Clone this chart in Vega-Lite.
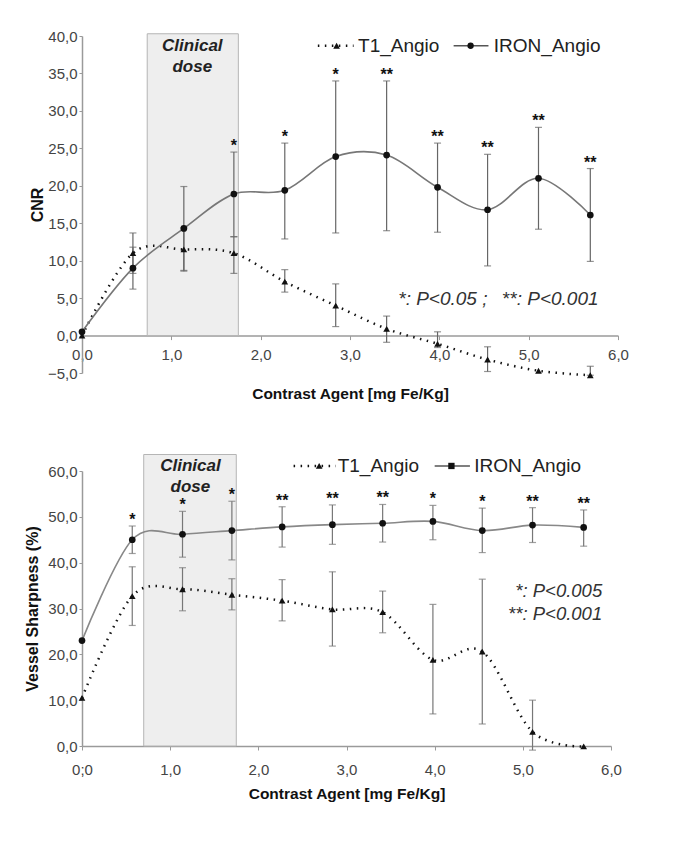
{
  "$schema": "https://vega.github.io/schema/vega-lite/v6.json",
  "background": "white",
  "padding": {"left": 24, "top": 29, "right": 5, "bottom": 5},
  "spacing": 50,
  "config": {
    "view": {"stroke": null},
    "font": "Liberation Sans",
    "axis": {"grid": false, "domainColor": "#9a9a9a", "domainWidth": 1.5, "tickColor": "#9a9a9a", "tickSize": 4, "labelColor": "#444444", "labelFontSize": 15, "labelFont": "Liberation Sans", "titleFont": "Liberation Sans", "titleFontSize": 16, "titleFontWeight": "bold", "titleColor": "#111111", "labelFlush": false, "labelOverlap": false}
  },
  "datasets": {
    "cnr": [
      {"dose": 0.0, "series": "IRON_Angio", "value": 0.5, "lo": null, "hi": null, "sig": ""},
      {"dose": 0.57, "series": "IRON_Angio", "value": 9.0, "lo": 6.2, "hi": 11.8, "sig": ""},
      {"dose": 1.14, "series": "IRON_Angio", "value": 14.3, "lo": 8.7, "hi": 19.9, "sig": ""},
      {"dose": 1.70, "series": "IRON_Angio", "value": 18.9, "lo": 13.2, "hi": 24.5, "sig": "*"},
      {"dose": 2.27, "series": "IRON_Angio", "value": 19.4, "lo": 12.9, "hi": 25.7, "sig": "*"},
      {"dose": 2.84, "series": "IRON_Angio", "value": 23.9, "lo": 13.7, "hi": 34.0, "sig": "*"},
      {"dose": 3.41, "series": "IRON_Angio", "value": 24.1, "lo": 14.0, "hi": 34.0, "sig": "**"},
      {"dose": 3.98, "series": "IRON_Angio", "value": 19.8, "lo": 13.8, "hi": 25.7, "sig": "**"},
      {"dose": 4.54, "series": "IRON_Angio", "value": 16.8, "lo": 9.3, "hi": 24.2, "sig": "**"},
      {"dose": 5.11, "series": "IRON_Angio", "value": 21.0, "lo": 14.2, "hi": 27.8, "sig": "**"},
      {"dose": 5.69, "series": "IRON_Angio", "value": 16.1, "lo": 9.9, "hi": 22.3, "sig": "**"},
      {"dose": 0.0, "series": "T1_Angio", "value": 0.0, "lo": null, "hi": null, "sig": ""},
      {"dose": 0.57, "series": "T1_Angio", "value": 11.0, "lo": 8.3, "hi": 13.7, "sig": ""},
      {"dose": 1.14, "series": "T1_Angio", "value": 11.5, "lo": 8.6, "hi": 14.4, "sig": ""},
      {"dose": 1.70, "series": "T1_Angio", "value": 11.0, "lo": 8.3, "hi": 13.2, "sig": ""},
      {"dose": 2.27, "series": "T1_Angio", "value": 7.2, "lo": 5.8, "hi": 8.8, "sig": ""},
      {"dose": 2.84, "series": "T1_Angio", "value": 4.0, "lo": 1.2, "hi": 6.9, "sig": ""},
      {"dose": 3.41, "series": "T1_Angio", "value": 0.9, "lo": -0.9, "hi": 2.6, "sig": ""},
      {"dose": 3.98, "series": "T1_Angio", "value": -1.1, "lo": -1.6, "hi": 0.5, "sig": ""},
      {"dose": 4.54, "series": "T1_Angio", "value": -3.2, "lo": -4.8, "hi": -1.5, "sig": ""},
      {"dose": 5.11, "series": "T1_Angio", "value": -4.7, "lo": null, "hi": null, "sig": ""},
      {"dose": 5.69, "series": "T1_Angio", "value": -5.3, "lo": -5.3, "hi": -4.1, "sig": ""}
    ],
    "sharp": [
      {"dose": 0.0, "series": "IRON_Angio", "value": 23.0, "lo": null, "hi": null, "sig": ""},
      {"dose": 0.57, "series": "IRON_Angio", "value": 45.0, "lo": 42.0, "hi": 48.0, "sig": "*"},
      {"dose": 1.14, "series": "IRON_Angio", "value": 46.2, "lo": 41.2, "hi": 51.2, "sig": "*"},
      {"dose": 1.70, "series": "IRON_Angio", "value": 47.0, "lo": 40.6, "hi": 53.4, "sig": "*"},
      {"dose": 2.27, "series": "IRON_Angio", "value": 47.8, "lo": 43.4, "hi": 52.2, "sig": "**"},
      {"dose": 2.84, "series": "IRON_Angio", "value": 48.3, "lo": 44.0, "hi": 52.6, "sig": "**"},
      {"dose": 3.41, "series": "IRON_Angio", "value": 48.6, "lo": 44.5, "hi": 52.7, "sig": "**"},
      {"dose": 3.98, "series": "IRON_Angio", "value": 49.0, "lo": 45.0, "hi": 52.5, "sig": "*"},
      {"dose": 4.54, "series": "IRON_Angio", "value": 47.0, "lo": 42.2, "hi": 51.9, "sig": "*"},
      {"dose": 5.11, "series": "IRON_Angio", "value": 48.2, "lo": 44.4, "hi": 52.0, "sig": "**"},
      {"dose": 5.69, "series": "IRON_Angio", "value": 47.7, "lo": 43.6, "hi": 51.5, "sig": "**"},
      {"dose": 0.0, "series": "T1_Angio", "value": 10.5, "lo": null, "hi": null, "sig": ""},
      {"dose": 0.57, "series": "T1_Angio", "value": 32.7, "lo": 26.3, "hi": 39.1, "sig": ""},
      {"dose": 1.14, "series": "T1_Angio", "value": 34.2, "lo": 29.5, "hi": 38.9, "sig": ""},
      {"dose": 1.70, "series": "T1_Angio", "value": 33.0, "lo": 29.7, "hi": 36.5, "sig": ""},
      {"dose": 2.27, "series": "T1_Angio", "value": 31.7, "lo": 27.3, "hi": 36.3, "sig": ""},
      {"dose": 2.84, "series": "T1_Angio", "value": 29.8, "lo": 21.8, "hi": 38.0, "sig": ""},
      {"dose": 3.41, "series": "T1_Angio", "value": 29.2, "lo": 24.7, "hi": 33.8, "sig": ""},
      {"dose": 3.98, "series": "T1_Angio", "value": 18.8, "lo": 7.0, "hi": 30.9, "sig": ""},
      {"dose": 4.54, "series": "T1_Angio", "value": 20.6, "lo": 4.8, "hi": 36.4, "sig": ""},
      {"dose": 5.11, "series": "T1_Angio", "value": 3.1, "lo": -0.9, "hi": 10.0, "sig": ""},
      {"dose": 5.69, "series": "T1_Angio", "value": -0.1, "lo": null, "hi": null, "sig": ""}
    ]
  },
  "vconcat": [
    {
      "width": 536,
      "height": 337,
      "data": {"name": "cnr"},
      "layer": [
        {
          "data": {"values": [{}]},
          "mark": {"type": "rect", "fill": "#eeeeee", "stroke": "#b5b5b5", "strokeWidth": 1},
          "encoding": {
            "x": {"datum": 0.73, "type": "quantitative", "title": "Contrast Agent [mg Fe/Kg]",
                  "scale": {"domain": [0, 6], "nice": false, "zero": false},
                  "axis": {"values": [0, 1, 2, 3, 4, 5, 6], "tickCount": 20, "offset": -37.4, "labelPadding": 8, "titlePadding": 24, "titleFontSize": 15.5, "labelOverlap": false, "labelFlush": false, "labelExpr": "replace(format(datum.value, '.1f'), '.', ',')"}},
            "x2": {"datum": 1.75},
            "y": {"datum": 0, "type": "quantitative", "title": "CNR",
                  "scale": {"domain": [-5, 40], "nice": false, "zero": false},
                  "axis": {"values": [-5, 0, 5, 10, 15, 20, 25, 30, 35, 40], "tickCount": 20, "tickSize": 3, "labelPadding": 2, "titlePadding": 2, "labelOverlap": false, "labelExpr": "replace(format(datum.value, '.1f'), '.', ',')"}},
            "y2": {"datum": 40.3}
          }
        },
        {
          "data": {"values": [{}]},
          "mark": {"type": "text", "text": "Clinical", "fontSize": 17, "fontWeight": "bold", "fontStyle": "italic", "color": "#222222", "baseline": "middle"},
          "encoding": {"x": {"datum": 1.235, "type": "quantitative"}, "y": {"datum": 38.7, "type": "quantitative"}}
        },
        {
          "data": {"values": [{}]},
          "mark": {"type": "text", "text": "dose", "fontSize": 17, "fontWeight": "bold", "fontStyle": "italic", "color": "#222222", "baseline": "middle"},
          "encoding": {"x": {"datum": 1.235, "type": "quantitative"}, "y": {"datum": 35.9, "type": "quantitative"}}
        },
        {
          "transform": [{"filter": "datum.series == 'T1_Angio'"}],
          "mark": {"type": "line", "interpolate": "cardinal", "color": "#111111", "strokeWidth": 2.5, "strokeDash": [1.5, 5.5]},
          "encoding": {"x": {"field": "dose", "type": "quantitative", "title": "Contrast Agent [mg Fe/Kg]"}, "y": {"field": "value", "type": "quantitative", "title": "CNR"}}
        },
        {
          "transform": [{"filter": "datum.series == 'IRON_Angio'"}],
          "mark": {"type": "line", "interpolate": "cardinal", "color": "#777777", "strokeWidth": 1.6},
          "encoding": {"x": {"field": "dose", "type": "quantitative", "title": "Contrast Agent [mg Fe/Kg]"}, "y": {"field": "value", "type": "quantitative", "title": "CNR"}}
        },
        {
          "mark": {"type": "rule", "color": "#666666", "strokeWidth": 1.2},
          "encoding": {"x": {"field": "dose", "type": "quantitative", "title": "Contrast Agent [mg Fe/Kg]"}, "y": {"field": "lo", "type": "quantitative", "title": "CNR"}, "y2": {"field": "hi"}}
        },
        {
          "mark": {"type": "tick", "orient": "horizontal", "color": "#666666", "size": 7, "thickness": 1.2},
          "encoding": {"x": {"field": "dose", "type": "quantitative", "title": "Contrast Agent [mg Fe/Kg]"}, "y": {"field": "lo", "type": "quantitative", "title": "CNR"}}
        },
        {
          "mark": {"type": "tick", "orient": "horizontal", "color": "#666666", "size": 7, "thickness": 1.2},
          "encoding": {"x": {"field": "dose", "type": "quantitative", "title": "Contrast Agent [mg Fe/Kg]"}, "y": {"field": "hi", "type": "quantitative", "title": "CNR"}}
        },
        {
          "mark": {"type": "point", "filled": true, "color": "#111111", "opacity": 1, "size": 45},
          "encoding": {
            "x": {"field": "dose", "type": "quantitative", "title": "Contrast Agent [mg Fe/Kg]"},
            "y": {"field": "value", "type": "quantitative", "title": "CNR"},
            "shape": {"field": "series", "type": "nominal", "scale": {"domain": ["T1_Angio", "IRON_Angio"], "range": ["triangle-up", "circle"]}, "legend": null}
          }
        },
        {
          "transform": [{"filter": "datum.sig != ''"}],
          "mark": {"type": "text", "fontSize": 16, "fontWeight": "bold", "color": "#111111", "baseline": "alphabetic", "dy": -1},
          "encoding": {"x": {"field": "dose", "type": "quantitative", "title": "Contrast Agent [mg Fe/Kg]"}, "y": {"field": "hi", "type": "quantitative", "title": "CNR"}, "text": {"field": "sig"}}
        },
        {
          "data": {"values": [{}]},
          "mark": {"type": "rule", "color": "#111111", "strokeWidth": 2.5, "strokeDash": [1.5, 5.5]},
          "encoding": {"x": {"datum": 2.64, "type": "quantitative"}, "x2": {"datum": 3.04}, "y": {"datum": 38.7, "type": "quantitative"}}
        },
        {
          "data": {"values": [{}]},
          "mark": {"type": "point", "shape": "triangle-up", "filled": true, "color": "#111111", "opacity": 1, "size": 45},
          "encoding": {"x": {"datum": 2.85, "type": "quantitative"}, "y": {"datum": 38.7, "type": "quantitative"}}
        },
        {
          "data": {"values": [{}]},
          "mark": {"type": "text", "text": "T1_Angio", "fontSize": 19, "color": "#222222", "align": "left", "baseline": "middle"},
          "encoding": {"x": {"datum": 3.09, "type": "quantitative"}, "y": {"datum": 38.7, "type": "quantitative"}}
        },
        {
          "data": {"values": [{}]},
          "mark": {"type": "rule", "color": "#555555", "strokeWidth": 1.6},
          "encoding": {"x": {"datum": 4.16, "type": "quantitative"}, "x2": {"datum": 4.55}, "y": {"datum": 38.7, "type": "quantitative"}}
        },
        {
          "data": {"values": [{}]},
          "mark": {"type": "point", "shape": "circle", "filled": true, "color": "#111111", "opacity": 1, "size": 40},
          "encoding": {"x": {"datum": 4.35, "type": "quantitative"}, "y": {"datum": 38.7, "type": "quantitative"}}
        },
        {
          "data": {"values": [{}]},
          "mark": {"type": "text", "text": "IRON_Angio", "fontSize": 19, "color": "#222222", "align": "left", "baseline": "middle"},
          "encoding": {"x": {"datum": 4.61, "type": "quantitative"}, "y": {"datum": 38.7, "type": "quantitative"}}
        },
        {
          "data": {"values": [{}]},
          "mark": {"type": "text", "text": "*: P<0.05 ;", "fontSize": 19, "fontStyle": "italic", "color": "#333333", "align": "left", "baseline": "middle"},
          "encoding": {"x": {"datum": 3.54, "type": "quantitative"}, "y": {"datum": 4.93, "type": "quantitative"}}
        },
        {
          "data": {"values": [{}]},
          "mark": {"type": "text", "text": "**: P<0.001", "fontSize": 19, "fontStyle": "italic", "color": "#333333", "align": "left", "baseline": "middle"},
          "encoding": {"x": {"datum": 4.70, "type": "quantitative"}, "y": {"datum": 4.93, "type": "quantitative"}}
        }
      ]
    },
    {
      "width": 529,
      "height": 275,
      "data": {"name": "sharp"},
      "layer": [
        {
          "data": {"values": [{}]},
          "mark": {"type": "rect", "fill": "#eeeeee", "stroke": "#b5b5b5", "strokeWidth": 1},
          "encoding": {
            "x": {"datum": 0.70, "type": "quantitative", "title": "Contrast Agent [mg Fe/Kg]",
                  "scale": {"domain": [0, 6], "nice": false, "zero": false},
                  "axis": {"values": [0, 1, 2, 3, 4, 5, 6], "tickCount": 20, "labelPadding": 12, "titlePadding": 9, "titleFontSize": 15.5, "labelOverlap": false, "labelFlush": false, "labelExpr": "datum.value == 0 ? '0;0' : replace(format(datum.value, '.1f'), '.', ',')"}},
            "x2": {"datum": 1.75},
            "y": {"datum": 0, "type": "quantitative", "title": "Vessel Sharpness (%)",
                  "scale": {"domain": [0, 60], "nice": false, "zero": false},
                  "axis": {"values": [0, 10, 20, 30, 40, 50, 60], "tickCount": 20, "tickSize": 3, "labelPadding": 2, "titlePadding": 7, "labelOverlap": false, "labelExpr": "replace(format(datum.value, '.1f'), '.', ',')"}},
            "y2": {"datum": 63.6}
          }
        },
        {
          "data": {"values": [{}]},
          "mark": {"type": "text", "text": "Clinical", "fontSize": 17, "fontWeight": "bold", "fontStyle": "italic", "color": "#222222", "baseline": "middle"},
          "encoding": {"x": {"datum": 1.23, "type": "quantitative"}, "y": {"datum": 61.1, "type": "quantitative"}}
        },
        {
          "data": {"values": [{}]},
          "mark": {"type": "text", "text": "dose", "fontSize": 17, "fontWeight": "bold", "fontStyle": "italic", "color": "#222222", "baseline": "middle"},
          "encoding": {"x": {"datum": 1.23, "type": "quantitative"}, "y": {"datum": 56.5, "type": "quantitative"}}
        },
        {
          "transform": [{"filter": "datum.series == 'T1_Angio'"}],
          "mark": {"type": "line", "interpolate": "cardinal", "color": "#111111", "strokeWidth": 2.5, "strokeDash": [1.5, 5.5]},
          "encoding": {"x": {"field": "dose", "type": "quantitative", "title": "Contrast Agent [mg Fe/Kg]"}, "y": {"field": "value", "type": "quantitative", "title": "Vessel Sharpness (%)"}}
        },
        {
          "transform": [{"filter": "datum.series == 'IRON_Angio'"}],
          "mark": {"type": "line", "interpolate": "cardinal", "color": "#888888", "strokeWidth": 1.6},
          "encoding": {"x": {"field": "dose", "type": "quantitative", "title": "Contrast Agent [mg Fe/Kg]"}, "y": {"field": "value", "type": "quantitative", "title": "Vessel Sharpness (%)"}}
        },
        {
          "mark": {"type": "rule", "color": "#777777", "strokeWidth": 1.2},
          "encoding": {"x": {"field": "dose", "type": "quantitative", "title": "Contrast Agent [mg Fe/Kg]"}, "y": {"field": "lo", "type": "quantitative", "title": "Vessel Sharpness (%)"}, "y2": {"field": "hi"}}
        },
        {
          "mark": {"type": "tick", "orient": "horizontal", "color": "#777777", "size": 7, "thickness": 1.2},
          "encoding": {"x": {"field": "dose", "type": "quantitative", "title": "Contrast Agent [mg Fe/Kg]"}, "y": {"field": "lo", "type": "quantitative", "title": "Vessel Sharpness (%)"}}
        },
        {
          "mark": {"type": "tick", "orient": "horizontal", "color": "#777777", "size": 7, "thickness": 1.2},
          "encoding": {"x": {"field": "dose", "type": "quantitative", "title": "Contrast Agent [mg Fe/Kg]"}, "y": {"field": "hi", "type": "quantitative", "title": "Vessel Sharpness (%)"}}
        },
        {
          "mark": {"type": "point", "filled": true, "color": "#111111", "opacity": 1, "size": 45},
          "encoding": {
            "x": {"field": "dose", "type": "quantitative", "title": "Contrast Agent [mg Fe/Kg]"},
            "y": {"field": "value", "type": "quantitative", "title": "Vessel Sharpness (%)"},
            "shape": {"field": "series", "type": "nominal", "scale": {"domain": ["T1_Angio", "IRON_Angio"], "range": ["triangle-up", "square"]}, "legend": null}
          }
        },
        {
          "transform": [{"filter": "datum.sig != ''"}],
          "mark": {"type": "text", "fontSize": 16, "fontWeight": "bold", "color": "#111111", "baseline": "alphabetic", "dy": -1},
          "encoding": {"x": {"field": "dose", "type": "quantitative", "title": "Contrast Agent [mg Fe/Kg]"}, "y": {"field": "hi", "type": "quantitative", "title": "Vessel Sharpness (%)"}, "text": {"field": "sig"}}
        },
        {
          "data": {"values": [{}]},
          "mark": {"type": "rule", "color": "#111111", "strokeWidth": 2.5, "strokeDash": [1.5, 5.5]},
          "encoding": {"x": {"datum": 2.40, "type": "quantitative"}, "x2": {"datum": 2.88}, "y": {"datum": 61.1, "type": "quantitative"}}
        },
        {
          "data": {"values": [{}]},
          "mark": {"type": "point", "shape": "triangle-up", "filled": true, "color": "#111111", "opacity": 1, "size": 45},
          "encoding": {"x": {"datum": 2.69, "type": "quantitative"}, "y": {"datum": 61.1, "type": "quantitative"}}
        },
        {
          "data": {"values": [{}]},
          "mark": {"type": "text", "text": "T1_Angio", "fontSize": 19, "color": "#222222", "align": "left", "baseline": "middle"},
          "encoding": {"x": {"datum": 2.90, "type": "quantitative"}, "y": {"datum": 61.1, "type": "quantitative"}}
        },
        {
          "data": {"values": [{}]},
          "mark": {"type": "rule", "color": "#555555", "strokeWidth": 1.6},
          "encoding": {"x": {"datum": 4.0, "type": "quantitative"}, "x2": {"datum": 4.4}, "y": {"datum": 61.1, "type": "quantitative"}}
        },
        {
          "data": {"values": [{}]},
          "mark": {"type": "point", "shape": "square", "filled": true, "color": "#111111", "opacity": 1, "size": 40},
          "encoding": {"x": {"datum": 4.19, "type": "quantitative"}, "y": {"datum": 61.1, "type": "quantitative"}}
        },
        {
          "data": {"values": [{}]},
          "mark": {"type": "text", "text": "IRON_Angio", "fontSize": 19, "color": "#222222", "align": "left", "baseline": "middle"},
          "encoding": {"x": {"datum": 4.45, "type": "quantitative"}, "y": {"datum": 61.1, "type": "quantitative"}}
        },
        {
          "data": {"values": [{}]},
          "mark": {"type": "text", "text": "*: P<0.005", "fontSize": 18.5, "fontStyle": "italic", "color": "#333333", "align": "right", "baseline": "middle"},
          "encoding": {"x": {"datum": 5.9, "type": "quantitative"}, "y": {"datum": 33.8, "type": "quantitative"}}
        },
        {
          "data": {"values": [{}]},
          "mark": {"type": "text", "text": "**: P<0.001", "fontSize": 18.5, "fontStyle": "italic", "color": "#333333", "align": "right", "baseline": "middle"},
          "encoding": {"x": {"datum": 5.9, "type": "quantitative"}, "y": {"datum": 28.7, "type": "quantitative"}}
        }
      ]
    }
  ]
}
